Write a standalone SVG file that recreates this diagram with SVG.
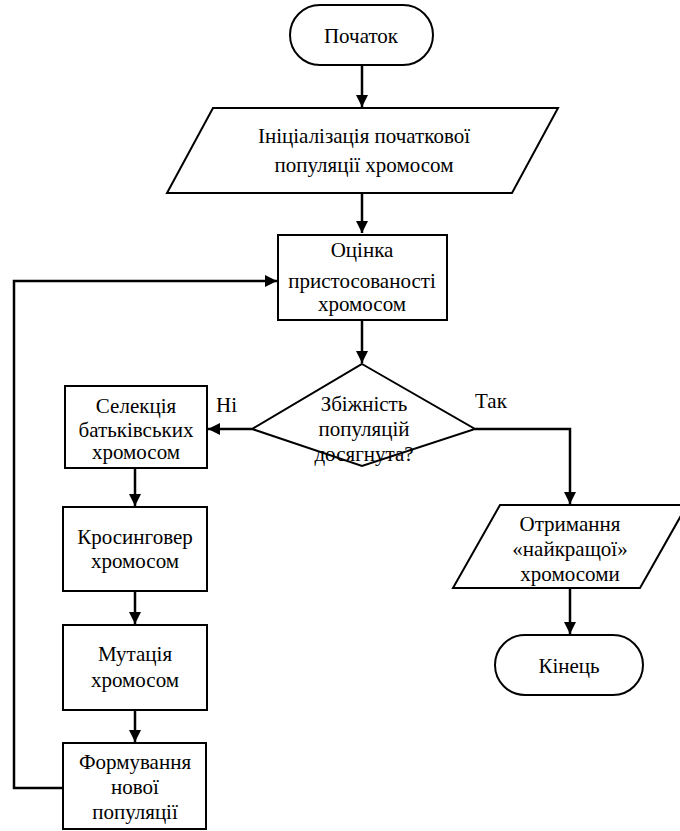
<svg xmlns="http://www.w3.org/2000/svg" width="680" height="831" viewBox="0 0 680 831">
<defs>
<marker id="ah" viewBox="0 0 12 12" refX="12" refY="6" markerWidth="12" markerHeight="12" markerUnits="userSpaceOnUse" orient="auto">
<path d="M0,0 L12,6 L0,12 Z" fill="#000"/>
</marker>
<style>
.s{fill:#fff;stroke:#000;stroke-width:2}
.t{font-family:"Times New Roman",Times,"Liberation Serif",Tinos,"Noto Serif","DejaVu Serif",serif;font-size:21px;fill:#000;text-anchor:middle}
.l{font-family:"Times New Roman",Times,"Liberation Serif",Tinos,"Noto Serif","DejaVu Serif",serif;font-size:21px;fill:#000}
.c{fill:none;stroke:#000;stroke-width:2.5}
</style>
</defs>
<rect width="680" height="831" fill="#fff"/>
<g id="connectors">
<path class="c" d="M362,65 V107" marker-end="url(#ah)"/>
<path class="c" d="M362,193 V233" marker-end="url(#ah)"/>
<path class="c" d="M362,320 V363" marker-end="url(#ah)"/>
<path class="c" d="M252,429 H208" marker-end="url(#ah)"/>
<path class="c" d="M475,429 H570 V504" marker-end="url(#ah)"/>
<path class="c" d="M570,588 V634" marker-end="url(#ah)"/>
<path class="c" d="M135,468 V506" marker-end="url(#ah)"/>
<path class="c" d="M135,591 V624" marker-end="url(#ah)"/>
<path class="c" d="M135,710 V742" marker-end="url(#ah)"/>
<path class="c" d="M63,788 H14 V281 H277" marker-end="url(#ah)"/>
</g>
<g id="start">
<rect class="s" x="290" y="5" width="143" height="60" rx="30" ry="30"/>
<text class="t" x="361" y="43">Початок</text>
</g>
<g id="init">
<polygon class="s" points="213,108 558,108 512,193 167,193"/>
<text class="t" x="364" y="143">Ініціалізація початкової</text>
<text class="t" x="364" y="172">популяції хромосом</text>
</g>
<g id="fitness">
<rect class="s" x="278" y="235" width="169" height="85"/>
<text class="t" x="362" y="257">Оцінка</text>
<text class="t" x="362" y="288">пристосованості</text>
<text class="t" x="362" y="311">хромосом</text>
</g>
<g id="decision">
<polygon class="s" points="362,364 475,429 362,466 252,429"/>
<text class="t" x="364" y="411">Збіжність</text>
<text class="t" x="364" y="436">популяцій</text>
<text class="t" x="364" y="461">досягнута?</text>
</g>
<text class="l" x="216" y="412">Ні</text>
<text class="l" x="475" y="408">Так</text>
<g id="selection">
<rect class="s" x="65" y="386" width="142" height="82"/>
<text class="t" x="136" y="413">Селекція</text>
<text class="t" x="136" y="437">батьківських</text>
<text class="t" x="136" y="459">хромосом</text>
</g>
<g id="crossover">
<rect class="s" x="63" y="507" width="144" height="84"/>
<text class="t" x="135" y="544">Кросинговер</text>
<text class="t" x="135" y="568">хромосом</text>
</g>
<g id="mutation">
<rect class="s" x="63" y="625" width="144" height="85"/>
<text class="t" x="135" y="661">Мутація</text>
<text class="t" x="135" y="687">хромосом</text>
</g>
<g id="newpop">
<rect class="s" x="63" y="743" width="143" height="86"/>
<text class="t" x="135" y="769">Формування</text>
<text class="t" x="135" y="794">нової</text>
<text class="t" x="135" y="819">популяції</text>
</g>
<g id="result">
<polygon class="s" points="500,505 687,505 640,588 453,588"/>
<text class="t" x="570" y="531">Отримання</text>
<text class="t" x="570" y="556">«найкращої»</text>
<text class="t" x="570" y="581">хромосоми</text>
</g>
<g id="end">
<rect class="s" x="495" y="635" width="148" height="60" rx="30" ry="30"/>
<text class="t" x="569" y="673">Кінець</text>
</g>
</svg>
